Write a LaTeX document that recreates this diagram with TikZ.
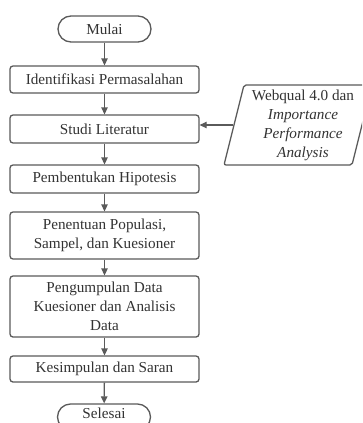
\documentclass[tikz,border=0pt]{standalone}
\usepackage{fontspec}
\setmainfont{Liberation Serif}
\usetikzlibrary{arrows.meta}
\definecolor{linegray}{HTML}{5A5A5A}
\definecolor{txtgray}{HTML}{333333}
\begin{document}
\begin{tikzpicture}[x=1pt,y=-1pt,
  every node/.style={font=\fontsize{15.2}{19}\selectfont, text=txtgray},
  box/.style={draw=linegray, line width=1.3pt, rounded corners=3pt, minimum width=189pt, inner sep=0pt, align=center},
  term/.style={draw=linegray, line width=1.3pt, rounded corners=13pt, minimum width=93pt, minimum height=26pt, inner sep=0pt},
  arr/.style={draw=linegray, line width=1.3pt, -{Triangle[length=7pt,width=6.5pt]}},
  para/.style={draw=linegray, line width=1.3pt, rounded corners=2pt}
]
\clip (0,0) rectangle (362,423);
\fill[white] (0,0) rectangle (362,423);

\node[term] (mulai) at (104.5,29) {Mulai};
\node[box, minimum height=27pt] (ident) at (104.5,79.5) {Identifikasi Permasalahan};
\node[box, minimum height=28pt] (studi) at (104.5,129) {Studi Literatur};
\node[box, minimum height=28pt] (hipo) at (104.5,179) {Pembentukan Hipotesis};
\node[box, minimum height=47pt] (popu) at (104.5,235.5) {Penentuan Populasi,\\Sampel, dan Kuesioner};
\node[box, minimum height=61pt] (kump) at (104.5,306.5) {Pengumpulan Data\\Kuesioner dan Analisis\\Data};
\node[box, minimum height=26pt] (kesim) at (104.5,369) {Kesimpulan dan Saran};
\node[term, text depth=8pt] (selesai) at (104,417) {Selesai};

\draw[para] (244,85) -- (372,85) -- (352,165) -- (224,165) -- cycle;
\node[align=center] (web) at (303,125.5) {Webqual 4.0 dan\\\textit{Importance}\\\textit{Performance}\\\textit{Analysis}};
\coordinate (pl) at (233,125);

\draw[arr] (mulai) -- (ident);
\draw[arr] (ident) -- (studi);
\draw[arr] (studi) -- (hipo);
\draw[arr] (hipo) -- (popu);
\draw[arr] (popu) -- (kump);
\draw[arr] (kump) -- (kesim);
\draw[arr] (kesim) -- (selesai);
\draw[arr] (pl) -- (studi.east |- pl);
\end{tikzpicture}
\end{document}
